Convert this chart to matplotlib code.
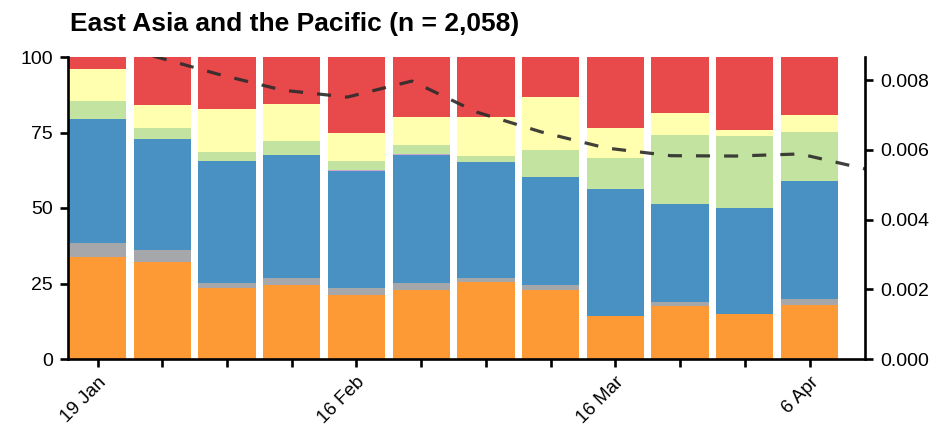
import matplotlib
matplotlib.use("Agg")
import matplotlib.pyplot as plt
import numpy as np

plt.rcParams['font.family'] = ['Liberation Sans', 'DejaVu Sans']

# Weekly share of responses by category (percent of each week)
weeks = ["19 Jan", "26 Jan", "2 Feb", "9 Feb", "16 Feb", "23 Feb", "1 Mar",
         "8 Mar", "16 Mar", "23 Mar", "30 Mar", "6 Apr"]
tick_labels = ["19 Jan", "", "", "", "16 Feb", "", "", "", "16 Mar", "", "", "6 Apr"]

orange = [33.9, 32.2, 23.6, 24.4, 21.2, 22.8, 25.6, 22.9, 14.1, 17.6, 14.9, 17.8]
gray   = [4.5, 3.8, 1.7, 2.5, 2.3, 2.4, 1.3, 1.6, 0.0, 1.3, 0.0, 2.2]
blue   = [41.1, 36.9, 40.2, 40.6, 38.7, 42.3, 38.3, 35.7, 42.1, 32.5, 35.0, 39.0]
purple = [0.0, 0.0, 0.0, 0.0, 0.3, 0.3, 0.0, 0.0, 0.0, 0.0, 0.0, 0.0]
green  = [5.9, 3.6, 2.9, 4.7, 3.0, 3.1, 1.9, 9.0, 10.4, 22.9, 23.9, 16.2]
yellow = [10.6, 7.7, 14.5, 12.2, 9.3, 9.3, 13.1, 17.7, 9.9, 7.3, 1.9, 5.5]
red    = [4.0, 15.8, 17.1, 15.6, 25.2, 19.8, 19.8, 13.1, 23.5, 18.4, 24.3, 19.3]

# Rate series (secondary axis), sampled one day before each week mark
rate_offset = -1.0 / 7.0
rate = [0.00869, 0.00817, 0.00771, 0.00751, 0.00797, 0.00708, 0.00651,
        0.00605, 0.00583, 0.00582, 0.00588, 0.00545]

series = [orange, gray, blue, purple, green, yellow, red]
colors = ["#FE9A35", "#A5A7AA", "#4A91C3", "#C9A5D0", "#C3E3A1", "#FFFFAF", "#E8494B"]

fig = plt.figure(figsize=(9.32, 4.29), dpi=100)
ax = fig.add_axes([68 / 932, 70 / 429, 797 / 932, 302 / 429])

x = np.arange(len(weeks))
bottom = np.zeros(len(weeks))
for vals, col in zip(series, colors):
    v = np.array(vals)
    ax.bar(x, v, bottom=bottom, width=0.885, color=col, linewidth=0, zorder=2)
    bottom += v

ax.set_xlim(-0.456, len(weeks) - 1 + 1 + rate_offset)
ax.set_ylim(0, 100)
ax.set_yticks([0, 25, 50, 75, 100])
ax.set_xticks(x)
ax.set_xticklabels(tick_labels, rotation=45, ha="right", va="top",
                   rotation_mode="anchor", fontsize=13.5)

for s in ["top", "right"]:
    ax.spines[s].set_visible(False)
for s in ["left", "bottom"]:
    ax.spines[s].set_linewidth(1.9)
ax.tick_params(axis="both", direction="out", length=5.8, width=1.9,
               labelsize=14, pad=5)
ax.tick_params(axis="x", labelsize=13.5, pad=5)

ax2 = ax.twinx()
xr = np.arange(len(rate)) + 1 + rate_offset
ax2.plot(xr, rate, color="#2b2b2b", lw=2.3, dashes=(4.4, 4.4), alpha=0.9,
         solid_capstyle="butt", dash_capstyle="butt")
ax2.set_ylim(0, 0.00866)
ax2.set_yticks([0, 0.002, 0.004, 0.006, 0.008])
ax2.set_yticklabels(["0.000", "0.002", "0.004", "0.006", "0.008"])
for s in ["top", "left", "bottom"]:
    ax2.spines[s].set_visible(False)
ax2.spines["right"].set_linewidth(1.9)
ax2.tick_params(axis="y", direction="out", length=5.8, width=1.9,
                labelsize=14, pad=5)

fig.text(70 / 932, 1 - 31 / 429, "East Asia and the Pacific (n = 2,058)",
         fontsize=19, fontweight="bold", ha="left", va="baseline")

fig.savefig("out.png", dpi=100)
